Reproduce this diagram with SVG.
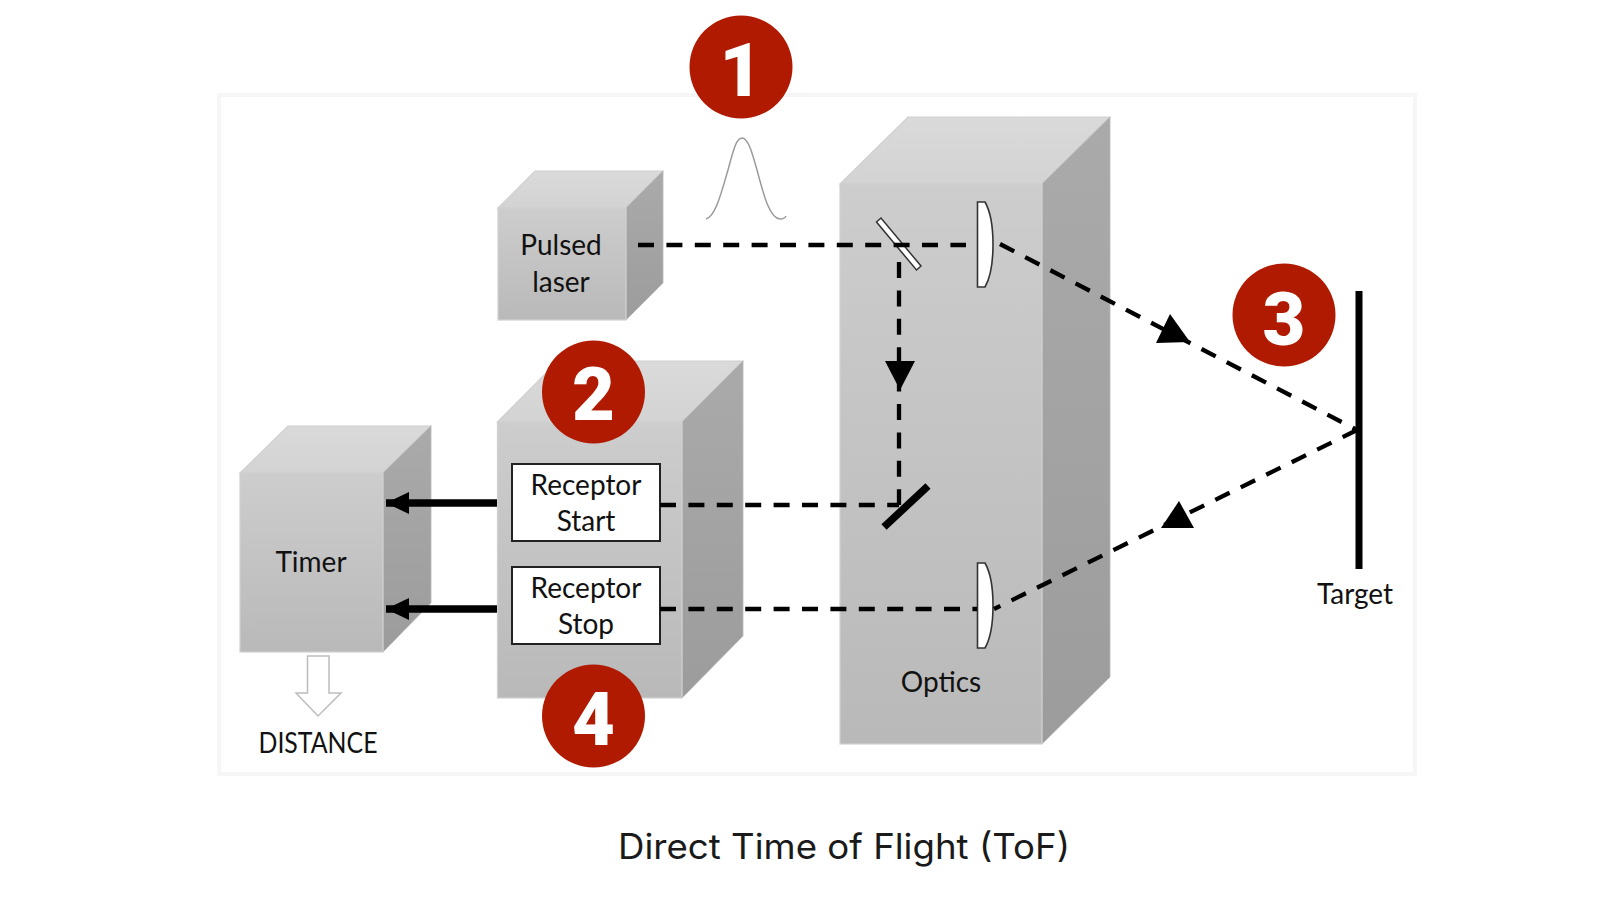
<svg xmlns="http://www.w3.org/2000/svg" width="1600" height="900" viewBox="0 0 1600 900">
<style>
.front{fill:url(#gFront);stroke:#d0d0d0;stroke-width:1.2}
.top{fill:url(#gTop);stroke:#cfcfcf;stroke-width:1.2}
.side{fill:url(#gSide);stroke:#b8b8b8;stroke-width:.8}
.lbl{font-family:Lato,"Open Sans",sans-serif;font-size:28px;fill:#111;text-anchor:middle}
.box{fill:#fff;stroke:#222;stroke-width:2}
.lens{fill:#fff;stroke:#333;stroke-width:1.6}
.dash{fill:none;stroke:#000;stroke-width:4.300;stroke-dasharray:16 12.4}
.solid{fill:none;stroke:#000;stroke-width:7.500;marker-end:url(#head)}
.tri{fill:#000}
.badge{fill:#b01a00}
.num{font-family:Roboto,Inter,sans-serif;font-weight:900;font-size:74px;fill:#fff;text-anchor:middle}
</style>
<defs>
<linearGradient id="gFront" x1="0" y1="0" x2="0" y2="1"><stop offset="0" stop-color="#cdcdcd"/><stop offset="1" stop-color="#b9b9b9"/></linearGradient>
<linearGradient id="gTop" x1="0" y1="0" x2="0" y2="1"><stop offset="0" stop-color="#dadada"/><stop offset="1" stop-color="#d3d3d3"/></linearGradient>
<linearGradient id="gSide" x1="0" y1="0" x2="0" y2="1"><stop offset="0" stop-color="#aaaaaa"/><stop offset="1" stop-color="#9c9c9c"/></linearGradient>
<marker id="head" markerUnits="userSpaceOnUse" markerWidth="26" markerHeight="26" refX="23" refY="13" orient="auto"><path d="M0 2 L23 13 L0 24 Z" fill="#000"/></marker>
</defs>
<rect width="1600" height="900" fill="#fff"/>
<rect id="panel" x="219" y="95" width="1196" height="679" fill="#fff" stroke="#f6f6f6" stroke-width="4"/>

<g id="pulsed-laser">
<polygon class="top" points="498,208 535,171 663,171 626,208"/>
<polygon class="side" points="626,208 663,171 663,283 626,320"/>
<rect class="front" x="498" y="208" width="128" height="112"/>
<text class="lbl" x="561" y="255">Pulsed</text>
<text class="lbl" x="561" y="292">laser</text>
</g>
<g id="pulse">
<path d="M706 219 C716 216 722 190 728 170 C733 152 736 138 742 138 C748 138 752 152 757 170 C763 192 769 218 780 219 C783 219 785 218 786 216" fill="none" stroke="#9a9a9a" stroke-width="1.5"/>
</g>
<g id="optics">
<polygon class="top" points="840,184 908,117 1110,117 1042,184"/>
<polygon class="side" points="1042,184 1110,117 1110,677 1042,744"/>
<rect class="front" x="840" y="184" width="202" height="560"/>
<text class="lbl" x="941" y="692">Optics</text>
<polygon id="beam-splitter" points="876.500,222 881,218 921,266 916.500,270" fill="#fff" stroke="#333" stroke-width="1.5"/>
<path id="lens-top" class="lens" d="M977.500 202 H985 Q993 216 993 244.500 Q993 273 985 287 H977.500 Z"/>
<path id="lens-bottom" class="lens" d="M977.500 563 H985 Q993 577 993 605.500 Q993 634 985 648 H977.500 Z"/>
</g>
<g id="receptor">
<polygon class="top" points="497.500,422 558,361 743,361 682,422"/>
<polygon class="side" points="682,422 743,361 743,636 682,698"/>
<rect class="front" x="497.500" y="422" width="184.500" height="276"/>
</g>
<g id="receptor-start">
<rect class="box" x="512" y="464" width="148" height="77"/>
<text class="lbl" x="586" y="495">Receptor</text>
<text class="lbl" x="586" y="531">Start</text>
</g>
<g id="receptor-stop">
<rect class="box" x="512" y="567" width="148" height="77"/>
<text class="lbl" x="586" y="598">Receptor</text>
<text class="lbl" x="586" y="634">Stop</text>
</g>
<g id="timer">
<polygon class="top" points="240,473 288,426 431,426 383,473"/>
<polygon class="side" points="383,473 431,426 431,603 383,652"/>
<rect class="front" x="240" y="473" width="143" height="179"/>
<text class="lbl" x="311" y="572">Timer</text>
</g>
<g id="distance">
<polygon points="307.500,656 329,656 329,693 341,693 318,716 296,693 307.500,693" fill="#fff" stroke="#bdbdbd" stroke-width="1.5"/>
<text class="lbl" x="318" y="753" textLength="119" lengthAdjust="spacingAndGlyphs">DISTANCE</text>
</g>
<g id="target">
<rect x="1355.500" y="291" width="7" height="278" fill="#000"/>
<text class="lbl" x="1355" y="604">Target</text>
</g>

<g id="connectors">
<path class="dash" d="M638 245 H966"/>
<path class="dash" d="M899 262 V505"/>
<path class="dash" d="M660 505 H899"/>
<path class="dash" d="M660 609 H977"/>
<path class="dash" d="M1000 244 L1357 430"/>
<path class="dash" d="M1357 430 L994 609"/>
<path class="solid" d="M497 503 H386"/>
<path class="solid" d="M497 609 H386"/>
<polygon class="tri" points="885,361 915,361 900,390"/>
<polygon class="tri" points="1170,314 1156,343 1190,342"/>
<polygon class="tri" points="1179,501 1161,528 1194,528"/>
</g>
<line id="mirror" x1="928" y1="486" x2="884" y2="527" stroke="#000" stroke-width="7.500"/>

<g id="badge-1"><circle class="badge" cx="741" cy="67" r="51.500"/><text class="num" x="741" y="96">1</text></g>
<g id="badge-2"><circle class="badge" cx="593.500" cy="392" r="51.500"/><text class="num" x="593.500" y="420">2</text></g>
<g id="badge-3"><circle class="badge" cx="1284" cy="315" r="51.500"/><text class="num" x="1284" y="345">3</text></g>
<g id="badge-4"><circle class="badge" cx="593.500" cy="716" r="51.500"/><text class="num" x="593.500" y="745">4</text></g>

<text id="title" x="844" y="859" font-family="Inter,'Open Sans',sans-serif" font-size="35" fill="#1a1a1a" text-anchor="middle" textLength="452" lengthAdjust="spacingAndGlyphs">Direct Time of Flight (ToF)</text>
</svg>
